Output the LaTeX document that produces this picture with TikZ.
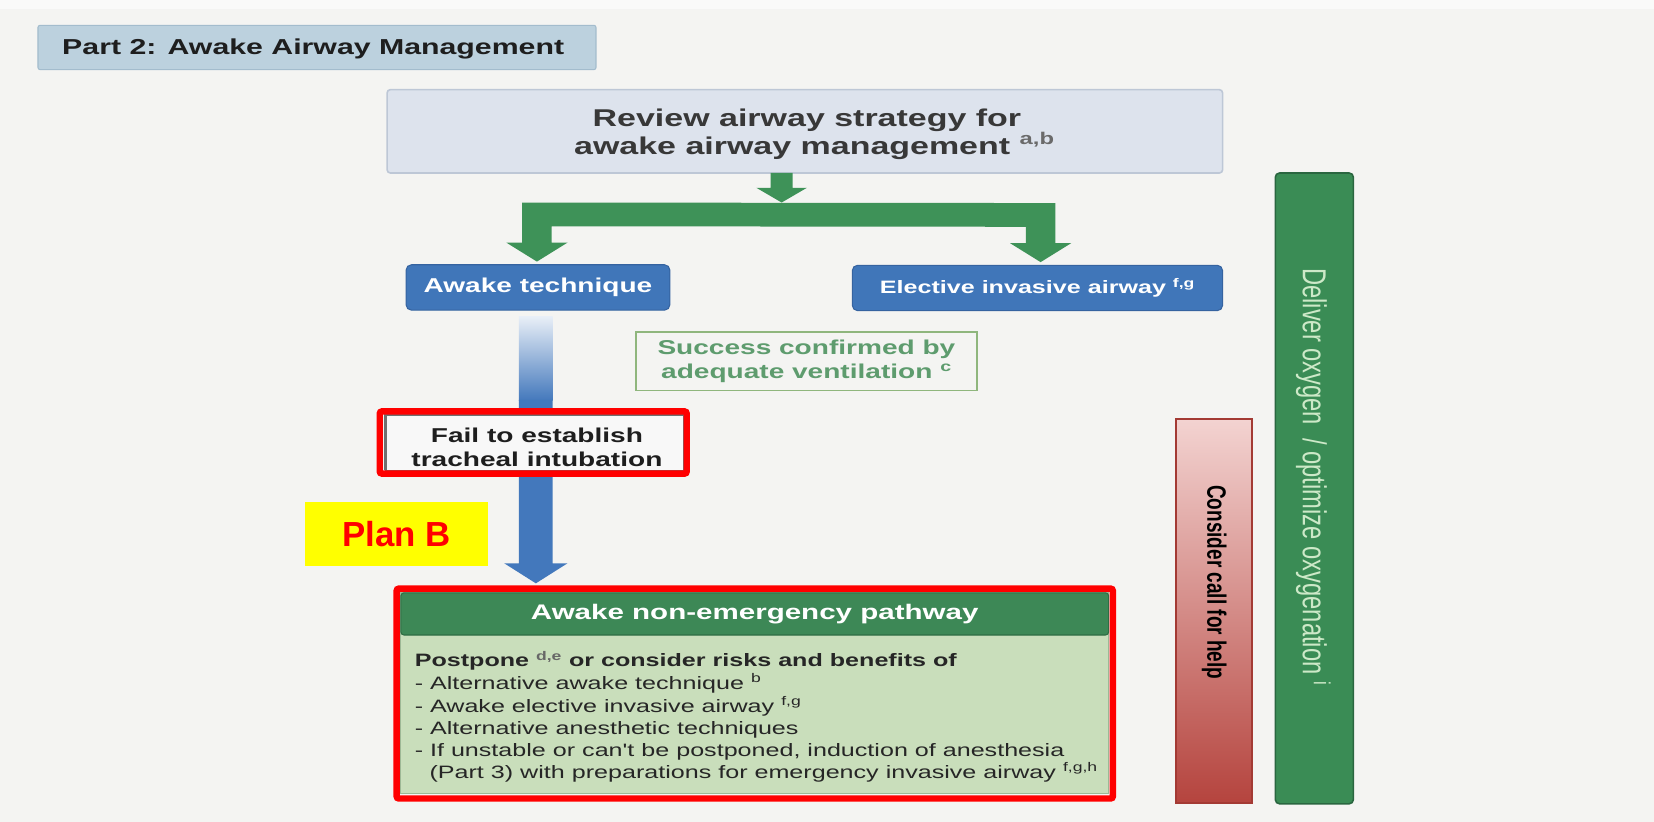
\documentclass[tikz,border=0pt]{standalone}
\usepackage{fontspec}
\usepackage{graphicx}
\setmainfont{Liberation Sans}
\newfontfamily\wf{Liberation Sans}[FakeStretch=1.4]
\newfontfamily\nf{Liberation Sans}
\usetikzlibrary{calc}
\definecolor{bgc}{HTML}{F4F4F2}
\definecolor{titlef}{HTML}{BCD1DE}
\definecolor{titleb}{HTML}{A3BCCD}
\definecolor{reviewf}{HTML}{DDE3ED}
\definecolor{reviewb}{HTML}{BDC7D6}
\definecolor{txtdark}{HTML}{1E1E1E}
\definecolor{reviewtxt}{HTML}{383838}
\definecolor{greenarr}{HTML}{3E9258}
\definecolor{blueboxf}{HTML}{4076B9}
\definecolor{blueboxb}{HTML}{3563A0}
\definecolor{bluearr}{HTML}{4378BC}
\definecolor{succb}{HTML}{8FB67D}
\definecolor{succt}{HTML}{5E9C6E}
\definecolor{failf}{HTML}{F8F8F8}
\definecolor{failb}{HTML}{707070}
\definecolor{annred}{HTML}{FF0000}
\definecolor{annyel}{HTML}{FFFF00}
\definecolor{pathh}{HTML}{3D8856}
\definecolor{pathhb}{HTML}{2F6D44}
\definecolor{pathbd}{HTML}{C9DEBB}
\definecolor{pathbdb}{HTML}{9DB895}
\definecolor{bodytxt}{HTML}{262626}
\definecolor{calltop}{HTML}{F3D3D1}
\definecolor{callmid}{HTML}{ECC6C3}
\definecolor{callbot}{HTML}{B5443E}
\definecolor{callb}{HTML}{A33A34}
\definecolor{delf}{HTML}{3A8C55}
\definecolor{delb}{HTML}{2A6640}
\definecolor{deltxt}{HTML}{CDE9C8}
\tikzset{
  bx/.style={inner sep=0pt, outer sep=0pt},
  titlebox/.style={bx, draw=titleb, fill=titlef, line width=1pt, rounded corners=2pt},
  reviewbox/.style={bx, draw=reviewb, fill=reviewf, line width=1.5pt, rounded corners=3pt},
  bluebox/.style={bx, draw=blueboxb, fill=blueboxf, line width=1pt, rounded corners=5pt, text=white},
  succbox/.style={bx, draw=succb, line width=1.5pt, text=succt, align=center,
    font=\wf\bfseries\fontsize{19}{22}\selectfont},
  failbox/.style={bx, draw=failb, fill=failf, line width=1.2pt},
  annframe/.style={bx, draw=annred, line width=6pt, rounded corners=2pt},
  greenfat/.style={fill=greenarr},
  bluefat/.style={fill=bluearr},
  bodyline/.style={anchor=base west, inner sep=0pt, text=bodytxt,
    font=\wf\fontsize{17}{21}\selectfont},
}
\begin{document}
\begin{tikzpicture}[x=1pt, y=-1pt]
\useasboundingbox (0,0) rectangle (1568,779);
\fill[bgc] (0,0) rectangle (1568,779);
\fill[white!55!bgc] (0,0) rectangle (1568,9);

% title
\node[titlebox, minimum width=529pt, minimum height=42pt] (title) at (300.5,45) {};
\node[bx, anchor=base west, text=txtdark, font=\wf\bfseries\fontsize{20.5}{24}\selectfont]
  (titletxt) at (59,52) {Part 2: Awake Airway Management};

% review
\node[reviewbox, minimum width=792pt, minimum height=79pt] (review) at (763,124.5) {};
\node[bx, anchor=base, text=reviewtxt, font=\wf\bfseries\fontsize{23}{26}\selectfont]
  (rev1) at (765,120) {Review airway strategy for};
\node[bx, anchor=base, text=reviewtxt, font=\wf\bfseries\fontsize{23}{26}\selectfont]
  (rev2) at (772,146) {awake airway management \textcolor{reviewtxt!75}{\textsuperscript{a,b}}};

% blue boxes
\node[bluebox, minimum width=250pt, minimum height=43pt, font=\wf\bfseries\fontsize{19}{22}\selectfont]
  (awake) at (510,272.5) {Awake technique};
\node[bluebox, minimum width=351pt, minimum height=43pt, font=\wf\bfseries\fontsize{17}{20}\selectfont]
  (elective) at (983.5,273) {Elective invasive airway \textsuperscript{f,g}};

% green split arrow
\coordinate (stemtop) at ($(review.south)+(-22,0)$);
\coordinate (split) at ($(stemtop)+(0,28)$);
\fill[greenfat] ($(stemtop)+(-10.5,0)$) -- ++(21,0) -- ++(0,14) -- ++(13.5,0) -- (split)
  -- ++(-24,-14) -- ++(13.5,0) -- cycle;
\coordinate (ltip) at ($(awake.north)+(-1,-3)$);
\coordinate (rtip) at ($(elective.north)+(3,-3)$);
\fill[greenfat] ($(ltip)+(-14,-56)$) -- ($(rtip)+(14,-56)$) -- ($(rtip)+(14,-18)$)
  -- ($(rtip)+(29,-18)$) -- (rtip) -- ($(rtip)+(-29,-18)$) -- ($(rtip)+(-14,-18)$)
  -- ($(rtip)+(-14,-33.5)$) -- ($(ltip)+(14,-33.5)$) -- ($(ltip)+(14,-18)$)
  -- ($(ltip)+(29,-18)$) -- (ltip) -- ($(ltip)+(-29,-18)$) -- ($(ltip)+(-14,-18)$) -- cycle;

% success box
\node[succbox, minimum width=323pt, minimum height=55pt] (success) at (764.5,342.5)
  {Success confirmed by\\adequate ventilation \textsuperscript{c}};

% pathway box
\node[bx, fill=pathbd, draw=pathbdb, line width=1pt, minimum width=671pt, minimum height=190pt,
  anchor=north west] (pathbody) at (380,562) {};
\node[bx, fill=pathh, draw=pathhb, line width=1pt, rounded corners=3pt, minimum width=671pt,
  minimum height=40pt, anchor=north west, text=white,
  font=\wf\bfseries\fontsize{20}{24}\selectfont] (pathhead) at (380,562) {Awake non-emergency pathway};

% blue arrow
\coordinate (btop) at ($(awake.south)+(-2,6)$);
\coordinate (btip) at ($(btop |- pathhead.north)+(0,-9)$);
\shade[top color=white!88!bluearr, bottom color=bluearr]
  ($(btop)+(-16,0)$) rectangle ($(btop)+(16,80)$);
\fill[bluefat] ($(btop)+(-16,79)$) -- ($(btop)+(16,79)$) -- ($(btip)+(16,-19)$)
  -- ($(btip)+(30,-19)$) -- (btip) -- ($(btip)+(-30,-19)$) -- ($(btip)+(-16,-19)$) -- cycle;

% fail box
\node[failbox, minimum width=283pt, minimum height=53pt] (fail) at (507,419.5) {};
\draw[failb, line width=3pt] (fail.south west) -- (fail.north west) -- (fail.north east);
\node[bx, align=center, text=txtdark, font=\wf\bfseries\fontsize{19}{22.5}\selectfont]
  (failtxt) at (509,424) {Fail to establish\\tracheal intubation};
\node[annframe, minimum width=291pt, minimum height=59pt] (failframe) at (505.5,419.5) {};

% Plan B
\node[bx, fill=annyel, minimum width=174pt, minimum height=61pt, text=annred,
  font=\nf\bfseries\fontsize{33}{36}\selectfont] (planb) at (376,506.5) {Plan B};

% pathway text
\node[bodyline, font=\wf\bfseries\fontsize{17}{21}\selectfont] (l1) at (393,632)
  {Postpone \textcolor{bodytxt!70}{\textsuperscript{d,e}} or consider risks and benefits of};
\node[bodyline] (l2) at (393,653.5) {- Alternative awake technique \textsuperscript{b}};
\node[bodyline] (l3) at (393,675) {- Awake elective invasive airway \textsuperscript{f,g}};
\node[bodyline] (l4) at (393,696) {- Alternative anesthetic techniques};
\node[bodyline] (l5) at (393,717) {- If unstable or can't be postponed, induction of anesthesia};
\node[bodyline] (l6) at (407,738) {(Part 3) with preparations for emergency invasive airway \textsuperscript{f,g,h}};
\node[annframe, minimum width=679pt, minimum height=199pt] (pathframe) at (715.5,657.5) {};

% consider call for help
\node[bx, draw=callb, line width=2pt, top color=calltop, middle color=callmid, bottom color=callbot,
  minimum width=72pt, minimum height=364pt] (call) at (1151,579) {};
\node[bx, rotate=-90, text=black, font=\nf\bfseries\fontsize{18}{20}\selectfont]
  (calltxt) at (1151,552) {\scalebox{1}[1.4]{Consider call for help}};

% deliver oxygen
\node[bx, draw=delb, fill=delf, line width=1.5pt, rounded corners=4pt,
  minimum width=74pt, minimum height=598pt] (deliver) at (1246,463) {};
\node[bx, rotate=-90, text=deltxt, font=\nf\fontsize{22.5}{24}\selectfont]
  (deltxt) at (1245,452) {\scalebox{1}[1.4]{Deliver oxygen\ \ / optimize oxygenation \textsuperscript{i}}};
\end{tikzpicture}
\end{document}
